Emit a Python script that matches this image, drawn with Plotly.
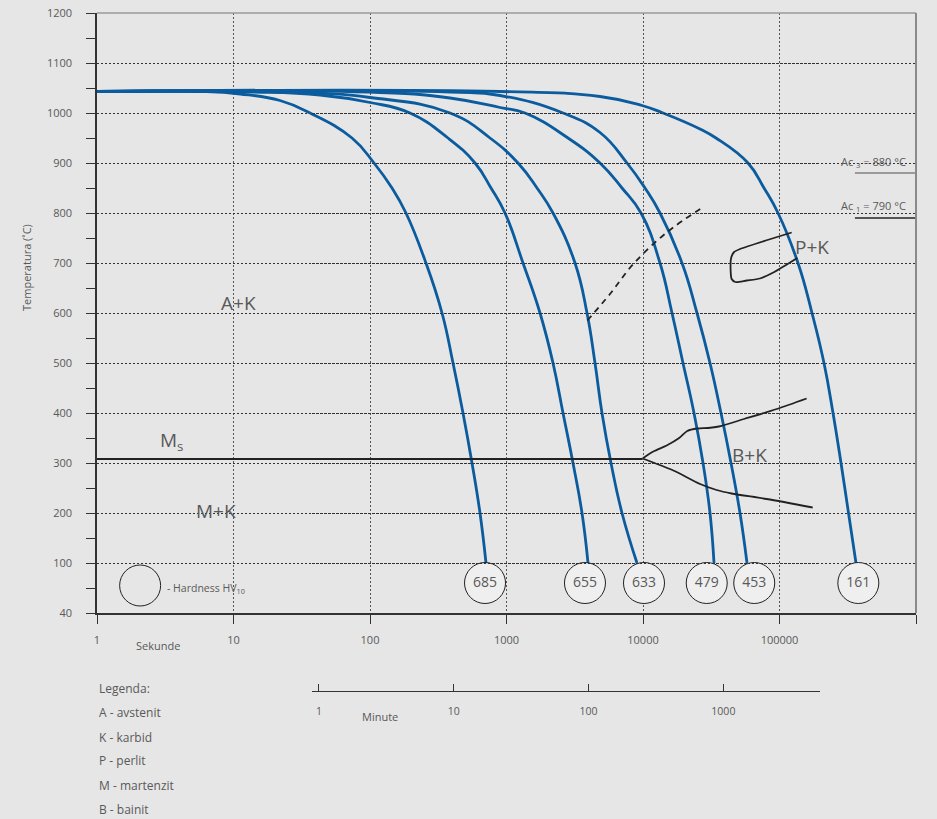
import plotly.graph_objects as go

# ---------------- axis ticks ----------------
x_tickvals = [1, 10, 100, 1000, 10000, 100000, 1000000]
x_ticktext = ["1", "10", "100", "1000", "10000", "100000", "1000000"]
y_tickvals = [0, 100, 200, 300, 400, 500, 600, 700, 800, 900, 1000, 1100, 1200]
y_ticktext = ["40", "100", "200", "300", "400", "500", "600", "700", "800", "900", "1000", "1100", "1200"]
y_minor = [50, 150, 250, 350, 450, 550, 650, 750, 850, 950, 1050, 1150]
minute_tickvals = [1, 10, 100, 1000]
minute_ticktext = ["1", "10", "100", "1000"]

# ---------------- cooling curves (time s, temperature C) ----------------
t_685 = [1, 5.7, 11.2, 21.9, 36.4, 73.8, 107, 145, 183.5, 257, 337, 405.6, 480, 558.8, 639.5, 707.6]
T_685 = [1043, 1043, 1038, 1025, 1000, 950, 900, 850, 800, 700, 600, 500, 400, 300, 200, 100]

t_655 = [1, 13.2, 43.0, 100, 196.3, 372.7, 587.8, 770, 975, 1321, 1760, 2191, 2594, 3070, 3574, 3954]
T_655 = [1043, 1042, 1036, 1021, 1000, 950, 900, 850, 800, 700, 600, 500, 400, 300, 200, 100]

t_633 = [1, 21.9, 100, 385.6, 757, 1214, 1673, 2191, 3176, 3888, 4450, 5006, 5829, 7017, 9036]
T_633 = [1043, 1042, 1031, 1000, 950, 900, 850, 800, 700, 600, 500, 400, 300, 200, 100]

t_479 = [1, 118.4, 385.6, 896.5, 1366, 2821, 4842, 7017, 9667, 13320, 16310, 19630, 23640, 27520, 30960, 33130]
T_479 = [1043, 1041, 1030, 1011, 1000, 950, 900, 850, 800, 700, 600, 500, 400, 300, 200, 100]

t_453 = [1, 385.6, 896.5, 2594, 4842, 7636, 10340, 13320, 19310, 24860, 30960, 37270, 44130, 51350, 57800]
T_453 = [1043, 1042, 1035, 1000, 961, 900, 850, 800, 700, 600, 500, 400, 300, 200, 100]

t_161 = [1, 896.5, 4842, 9833, 14010, 26160, 34250, 58770, 77000, 97500, 136600, 173000, 211800,
         246600, 282200, 320300, 363400]
T_161 = [1043, 1043, 1033, 1015, 1000, 968, 950, 900, 850, 800, 700, 600, 500, 400, 300, 200, 100]

hardness = [685, 655, 633, 479, 453, 161]
circle_t = [696, 3758, 10170, 29300, 65300, 378000]
circle_T = [60, 60, 60, 60, 60, 60]

# ---------------- transformation lines ----------------
ms_t = [1, 9940]
ms_T = [308, 308]

bu_t = [9940, 11900, 14900, 18400, 21100, 25000, 30000, 36000, 55000, 95500, 158000]
bu_T = [309, 323, 335, 350, 364, 369, 370, 373, 388, 408, 429]

bl_t = [9940, 16700, 26200, 34600, 44600, 80600, 175000]
bl_T = [309, 285, 258, 246, 239, 228, 211]

dash_t = [3910, 5730, 8490, 14900, 28000]
dash_T = [585, 638, 698, 761, 813]

pk_t = [122800, 51400, 46500, 44200, 43800, 44600, 47500, 57500, 71900, 90100, 135000]
pk_T = [761, 728, 722, 710, 690, 668, 662, 665, 669, 681, 710]

ac_t = [357000, 1000000]
ac3 = 880
ac1 = 790

legend_circle_t = [2.07]
legend_circle_T = [55]

BLUE = "#0b5c9e"
INK = "#222222"
TXT = "#595959"
BG = "#e6e6e6"
FONT = "Open Sans"

fig = go.Figure()

for t, T in [(t_685, T_685), (t_655, T_655), (t_633, T_633),
             (t_479, T_479), (t_453, T_453), (t_161, T_161)]:
    fig.add_trace(go.Scatter(x=t, y=T, mode="lines",
                             line=dict(color=BLUE, width=2.8, shape="spline", smoothing=1.3),
                             hoverinfo="skip", showlegend=False))

fig.add_trace(go.Scatter(x=ms_t, y=ms_T, mode="lines", line=dict(color=INK, width=2),
                         hoverinfo="skip", showlegend=False))
fig.add_trace(go.Scatter(x=bu_t, y=bu_T, mode="lines",
                         line=dict(color=INK, width=1.8, shape="spline", smoothing=0.8),
                         hoverinfo="skip", showlegend=False))
fig.add_trace(go.Scatter(x=bl_t, y=bl_T, mode="lines",
                         line=dict(color=INK, width=1.8, shape="spline", smoothing=0.8),
                         hoverinfo="skip", showlegend=False))
fig.add_trace(go.Scatter(x=dash_t, y=dash_T, mode="lines",
                         line=dict(color=INK, width=1.8, dash="6px,5px", shape="spline"),
                         hoverinfo="skip", showlegend=False))
fig.add_trace(go.Scatter(x=pk_t, y=pk_T, mode="lines",
                         line=dict(color=INK, width=1.8, shape="spline", smoothing=0.7),
                         hoverinfo="skip", showlegend=False))
fig.add_trace(go.Scatter(x=ac_t, y=[ac3, ac3], mode="lines", line=dict(color="#9a9a9a", width=2),
                         hoverinfo="skip", showlegend=False))
fig.add_trace(go.Scatter(x=ac_t, y=[ac1, ac1], mode="lines", line=dict(color="#555555", width=2),
                         hoverinfo="skip", showlegend=False))

fig.add_trace(go.Scatter(x=circle_t, y=circle_T, mode="markers+text",
                         text=[str(h) for h in hardness], textposition="middle center",
                         textfont=dict(family=FONT, size=14, color=TXT),
                         marker=dict(size=41, color="#efefef", line=dict(color=INK, width=1)),
                         hoverinfo="skip", showlegend=False, cliponaxis=False))
fig.add_trace(go.Scatter(x=legend_circle_t, y=legend_circle_T, mode="markers",
                         marker=dict(size=41, color=BG, line=dict(color=INK, width=1)),
                         hoverinfo="skip", showlegend=False))

# invisible trace to activate the minute axis
fig.add_trace(go.Scatter(x=minute_tickvals, y=[None] * len(minute_tickvals), xaxis="x2", yaxis="y",
                         mode="markers", hoverinfo="skip", showlegend=False))

Y_DOMAIN_LOW = 78 / 678

fig.update_layout(
    width=937, height=819,
    margin=dict(l=97, r=21, t=13, b=128, autoexpand=False),
    paper_bgcolor=BG, plot_bgcolor="rgba(0,0,0,0)",
    font=dict(family=FONT, color=TXT, size=11),
    xaxis=dict(type="log", range=[0, 6], domain=[0, 1], anchor="y", automargin=False,
               tickmode="array", tickvals=x_tickvals, ticktext=x_ticktext,
               ticks="outside", ticklen=9, tickcolor="#333", tickwidth=1,
               showline=True, linecolor="#333", linewidth=1.5,
               showgrid=True, gridcolor="#555", gridwidth=1, griddash="2px,2px",
               zeroline=False, tickfont=dict(size=11, color=TXT), ticklabelstandoff=7),
    yaxis=dict(range=[0, 1200], domain=[Y_DOMAIN_LOW, 1], anchor="x", automargin=False,
               tickmode="array", tickvals=y_tickvals, ticktext=y_ticktext,
               ticks="outside", ticklen=9, tickcolor="#333", tickwidth=1,
               minor=dict(tickvals=y_minor, ticks="outside", ticklen=9, tickcolor="#333", showgrid=False),
               showline=True, linecolor="#333", linewidth=1.5,
               showgrid=True, gridcolor="#333", gridwidth=1, griddash="2px,2px",
               zeroline=False, tickfont=dict(size=11, color=TXT), ticklabelstandoff=12),
    xaxis2=dict(type="log", range=[-0.052, 3.717], domain=[0.2625, 0.8828], anchor="free", position=0,
                automargin=False,
                tickmode="array", tickvals=minute_tickvals, ticktext=minute_ticktext,
                ticks="inside", ticklen=7, tickcolor="#333", tickwidth=1,
                showline=True, linecolor="#333", linewidth=1,
                showgrid=False, zeroline=False, tickfont=dict(size=10.5, color=TXT), ticklabelstandoff=10),
)

# frame (top / right)
fig.add_shape(type="line", xref="x domain", yref="y domain", x0=0, x1=1, y0=1, y1=1,
              line=dict(color="#9a9a9a", width=1.5))
fig.add_shape(type="line", xref="x domain", yref="y domain", x0=1, x1=1, y0=0, y1=1,
              line=dict(color="#8a8a8a", width=2))

def ann(text, x, y, size, xref="x", yref="y", xanchor="center", yanchor="middle", angle=0):
    fig.add_annotation(text=text, x=x, y=y, xref=xref, yref=yref, showarrow=False,
                       xanchor=xanchor, yanchor=yanchor, textangle=angle,
                       font=dict(family=FONT, size=size, color=TXT))

ann("A+K", 1.033, 620, 19)
ann("P+K", 5.238, 733, 19)
ann("B+K", 4.777, 317, 19)
ann("M+K", 0.872, 205, 19)
ann("M<sub>s</sub>", 0.447, 345, 19, xanchor="left")
ann("Ac <sub>3</sub> = 880 °C", 5.686, 903, 11)
ann("Ac <sub>1</sub> = 790 °C", 5.686, 815, 11)
ann("- Hardness HV<sub>10</sub>", 0.498, 49, 10.5, xanchor="left")

ann("Temperatura (˚C)", -0.0855, 0.6254, 11, xref="paper", yref="paper", angle=-90)
ann("Sekunde", 0.0745, 0.0678, 11, xref="paper", yref="paper")
ann("Minute", 0.4525, -0.0383, 11, xref="x2", yref="paper")

legend_lines = ["Legenda:", "A - avstenit", "K - karbid", "P - perlit", "M - martenzit", "B - bainit"]
legend_y = [0.0044, -0.0324, -0.0693, -0.1032, -0.1401, -0.1755]
for txt, yy in zip(legend_lines, legend_y):
    ann(txt, 0, yy, 12, xref="paper", yref="paper", xanchor="left")

fig.write_html("out.html", config={"displayModeBar": False},
               post_script="document.body.style.margin='0';document.body.style.overflow='hidden';")
